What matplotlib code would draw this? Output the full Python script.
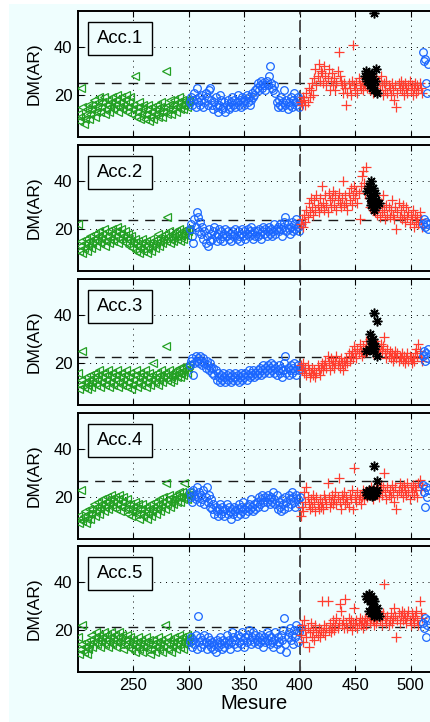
import numpy as np
import matplotlib
matplotlib.use('Agg')
import matplotlib.pyplot as plt
from matplotlib.patches import Rectangle

plt.rcParams['font.family'] = ['Liberation Sans', 'DejaVu Sans']

# ---------------- data ----------------
panel_labels = ['Acc.1', 'Acc.2', 'Acc.3', 'Acc.4', 'Acc.5']
thresholds = [25.0, 23.8, 22.3, 26.8, 21.4]
split_x = 400
x_ticks = [250, 300, 350, 400, 450, 500]
y_ticks = [20, 40]

x_green = list(range(200, 301))
x_blue = list(range(301, 401))
x_red = list(range(401, 511))
x_tail = [511, 512, 513, 514, 515, 516]

green_1 = [12, 9, 11, 23, 15, 8, 10, 12, 14, 16,
           10, 12, 14, 16, 18, 11, 13, 15, 17, 19,
           13, 15, 17, 19, 12, 14, 16, 18, 13, 15,
           17, 19, 14, 16, 18, 20, 13, 15, 17, 19,
           14, 16, 18, 20, 13, 15, 17, 19, 12, 14,
           16, 28, 11, 13, 15, 17, 10, 12, 14, 16,
           10, 12, 14, 16, 9, 11, 13, 15, 10, 12,
           14, 16, 11, 13, 15, 17, 11, 13, 15, 30,
           12, 14, 16, 18, 12, 14, 16, 18, 13, 15,
           17, 19, 14, 16, 18, 14, 16, 18, 15, 17,
           18]
blue_1 = [17, 19, 16, 18, 21, 15, 23, 17, 19, 16,
          18, 20, 15, 17, 21, 19, 16, 22, 23, 18,
          16, 14, 17, 19, 15, 13, 16, 20, 18, 14,
          15, 17, 13, 16, 18, 14, 15, 17, 19, 16,
          18, 15, 17, 20, 16, 18, 15, 19, 17, 16,
          18, 20, 17, 19, 16, 18, 21, 19, 20, 22,
          23, 25, 22, 24, 26, 23, 25, 24, 22, 26,
          24, 28, 32, 25, 23, 22, 24, 21, 17, 15,
          18, 16, 19, 15, 17, 22, 16, 18, 14, 17,
          16, 19, 15, 18, 21, 17, 16, 19, 15, 18]
red_1 = [17, 16, 19, 18, 16, 21, 17, 23, 19, 22,
         25, 20, 27, 31, 24, 28, 33, 26, 30, 29,
         25, 32, 28, 24, 27, 31, 22, 26, 29, 24,
         27, 22, 25, 30, 38, 28, 26, 24, 21, 25,
         23, 16, 21, 25, 23, 20, 26, 41, 24, 22,
         25, 21, 27, 24, 23, 26, 22, 25, 24, 27,
         23, 25, 22, 26, 24, 21, 25, 23, 27, 24,
         26, 22, 28, 24, 20, 25, 22, 26, 21, 24,
         23, 20, 25, 22, 18, 24, 15, 21, 25, 23,
         26, 22, 24, 20, 25, 23, 21, 24, 26, 22,
         24, 20, 23, 25, 21, 24, 22, 25, 23, 21]
star_x_1 = [459, 460, 461, 462, 463, 463, 464, 465, 465, 466, 467, 468, 469, 470, 467]
star_y_1 = [28, 30, 26, 29, 24, 27, 25, 23, 28, 24, 22, 26, 31, 21, 54]
tail_1 = [38, 34, 35, 25, 21, 33]

green_2 = [22, 11, 13, 15, 10, 12, 14, 16, 11, 13,
           15, 17, 12, 14, 16, 18, 13, 15, 17, 19,
           14, 16, 18, 20, 13, 15, 17, 19, 14, 16,
           18, 20, 15, 17, 19, 21, 14, 16, 18, 20,
           15, 17, 19, 14, 16, 18, 13, 15, 17, 12,
           14, 16, 11, 13, 15, 10, 12, 14, 16, 11,
           13, 15, 10, 12, 14, 16, 11, 13, 15, 12,
           14, 16, 18, 13, 15, 17, 14, 16, 18, 15,
           25, 17, 19, 14, 16, 18, 15, 17, 19, 16,
           18, 20, 15, 17, 19, 16, 18, 20, 17, 19,
           20]
blue_2 = [20, 22, 17, 14, 24, 21, 27, 25, 19, 23,
          18, 21, 16, 19, 14, 17, 13, 20, 15, 18,
          16, 19, 21, 17, 15, 18, 20, 16, 19, 17,
          15, 18, 20, 17, 19, 16, 18, 15, 19, 17,
          18, 20, 16, 19, 17, 15, 18, 20, 17, 19,
          16, 18, 20, 17, 19, 21, 18, 16, 19, 17,
          19, 17, 20, 18, 16, 19, 21, 18, 20, 17,
          19, 21, 18, 20, 17, 19, 22, 18, 20, 21,
          19, 22, 20, 17, 21, 23, 25, 19, 22, 20,
          18, 21, 23, 19, 22, 20, 24, 21, 19, 22]
red_2 = [22, 24, 21, 26, 23, 28, 25, 31, 27, 33,
         29, 26, 32, 28, 34, 30, 27, 33, 29, 38,
         31, 28, 34, 30, 27, 35, 32, 29, 33, 36,
         30, 34, 28, 32, 35, 31, 29, 33, 40, 30,
         34, 31, 28, 35, 32, 37, 30, 34, 38, 33,
         36, 31, 35, 24, 38, 42, 44, 39, 35, 46,
         37, 33, 29, 34, 31, 28, 32, 27, 30, 26,
         29, 25, 31, 27, 34, 28, 24, 30, 26, 29,
         25, 28, 32, 26, 24, 29, 20, 27, 31, 25,
         28, 24, 30, 26, 23, 29, 25, 27, 22, 26,
         24, 28, 21, 26, 23, 25, 22, 27, 24, 21]
star_x_2 = [461, 462, 463, 464, 465, 466, 467, 468, 469, 470, 466, 471, 464, 467]
star_y_2 = [36, 38, 33, 40, 31, 34, 30, 35, 32, 30, 37, 31, 30, 28]
tail_2 = [22, 24, 21, 23, 22, 20]

green_3 = [16, 9, 11, 13, 25, 10, 12, 14, 9, 11,
           13, 15, 10, 12, 14, 16, 11, 13, 15, 17,
           10, 12, 14, 16, 11, 13, 15, 17, 10, 12,
           14, 16, 11, 13, 15, 17, 10, 12, 14, 16,
           11, 13, 15, 17, 10, 12, 14, 16, 9, 11,
           13, 15, 17, 10, 12, 14, 16, 11, 13, 15,
           17, 10, 12, 14, 16, 11, 13, 15, 20, 12,
           14, 16, 11, 13, 15, 17, 12, 14, 16, 27,
           13, 15, 17, 12, 14, 16, 13, 15, 17, 14,
           16, 18, 14, 16, 18, 15, 17, 19, 16, 18,
           19]
blue_3 = [19, 21, 22, 15, 20, 23, 21, 22, 20, 23,
          21, 19, 22, 20, 18, 21, 19, 17, 20, 18,
          16, 18, 15, 17, 13, 16, 14, 12, 15, 13,
          16, 14, 12, 15, 13, 16, 14, 12, 15, 13,
          14, 16, 13, 15, 12, 14, 16, 13, 15, 14,
          16, 13, 15, 17, 14, 16, 15, 17, 14, 16,
          15, 17, 16, 18, 15, 17, 19, 16, 18, 17,
          19, 16, 18, 20, 17, 19, 16, 18, 15, 17,
          19, 16, 18, 14, 17, 20, 23, 16, 18, 15,
          17, 19, 16, 18, 20, 17, 15, 19, 17, 18]
red_3 = [19, 17, 20, 16, 18, 15, 19, 17, 14, 16,
         18, 15, 17, 14, 16, 19, 17, 15, 18, 20,
         17, 19, 21, 18, 23, 20, 17, 22, 19, 21,
         18, 20, 23, 19, 21, 18, 22, 20, 17, 21,
         19, 22, 20, 24, 21, 23, 25, 22, 27, 24,
         22, 26, 24, 28, 25, 23, 27, 24, 26, 29,
         25, 27, 30, 26, 28, 24, 27, 29, 25, 28,
         26, 24, 28, 25, 27, 31, 24, 22, 26, 23,
         25, 22, 24, 21, 23, 25, 22, 24, 21, 23,
         22, 24, 21, 23, 20, 22, 24, 21, 23, 22,
         20, 22, 21, 24, 26, 23, 28, 25, 22, 21]
star_x_3 = [467, 470, 463, 465, 466, 468, 460, 462, 470, 467, 464, 466]
star_y_3 = [41, 37.5, 32, 28.5, 30, 27, 25, 26, 23, 26, 29, 25]
tail_3 = [23, 25, 21, 24, 22, 26]

green_4 = [12, 9, 11, 23, 10, 12, 14, 9, 11, 13,
           15, 11, 13, 15, 17, 12, 14, 16, 18, 13,
           15, 17, 19, 14, 16, 18, 20, 15, 17, 19,
           21, 16, 18, 20, 15, 17, 19, 21, 14, 16,
           18, 20, 15, 17, 19, 13, 15, 17, 12, 14,
           16, 18, 13, 15, 17, 11, 13, 15, 17, 12,
           14, 16, 11, 13, 15, 17, 12, 14, 16, 18,
           13, 15, 17, 19, 14, 16, 18, 20, 15, 26,
           17, 19, 21, 16, 18, 20, 17, 19, 21, 18,
           20, 22, 18, 20, 22, 19, 26, 21, 19, 21,
           22]
blue_4 = [22, 20, 18, 23, 21, 19, 24, 20, 22, 18,
          21, 19, 23, 17, 20, 24, 18, 21, 16, 19,
          15, 17, 13, 16, 14, 12, 15, 17, 13, 16,
          14, 12, 15, 17, 13, 16, 14, 11, 15, 13,
          16, 14, 12, 15, 17, 13, 16, 14, 18, 15,
          13, 16, 14, 17, 15, 19, 16, 14, 17, 15,
          18, 16, 20, 17, 19, 21, 18, 16, 20, 18,
          21, 19, 17, 20, 18, 22, 19, 17, 21, 15,
          18, 16, 14, 19, 17, 15, 20, 18, 16, 21,
          19, 17, 22, 20, 18, 16, 21, 19, 17, 20]
red_4 = [12, 16, 14, 22, 18, 24, 20, 17, 15, 19,
         16, 21, 18, 14, 20, 17, 15, 19, 16, 18,
         15, 21, 19, 17, 26, 20, 16, 18, 21, 17,
         19, 22, 17, 20, 28, 18, 15, 21, 19, 22,
         17, 20, 18, 16, 21, 19, 23, 15, 32, 20,
         18, 22, 19, 21, 17, 20, 23, 19, 22, 21,
         20, 23, 21, 24, 22, 19, 23, 21, 24, 22,
         20, 23, 25, 21, 24, 30, 22, 19, 24, 21,
         23, 20, 25, 22, 18, 24, 15, 21, 23, 26,
         22, 24, 20, 25, 23, 21, 26, 22, 19, 24,
         22, 25, 21, 24, 23, 20, 26, 27, 23, 25]
star_x_4 = [467, 470, 460, 461, 462, 463, 464, 465, 466, 467, 468, 469, 470, 463, 466]
star_y_4 = [33, 26.5, 22, 21, 23, 21, 22, 20.5, 23, 21, 22, 21.5, 23, 22.5, 21]
tail_4 = [25, 22, 16, 24, 20, 23]

green_5 = [17, 10, 12, 14, 22, 11, 13, 15, 10, 12,
           14, 16, 18, 13, 15, 17, 19, 14, 16, 18,
           13, 15, 17, 19, 14, 16, 18, 13, 15, 17,
           19, 14, 16, 18, 13, 15, 17, 19, 14, 16,
           18, 12, 14, 16, 18, 13, 15, 17, 12, 14,
           16, 11, 13, 15, 17, 12, 14, 16, 11, 13,
           15, 17, 12, 14, 16, 10, 12, 14, 16, 11,
           13, 15, 17, 12, 14, 16, 11, 13, 22, 15,
           17, 12, 14, 16, 11, 13, 15, 17, 12, 14,
           16, 18, 13, 15, 17, 12, 14, 16, 18, 15,
           17]
blue_5 = [15, 17, 13, 16, 14, 18, 12, 26, 15, 17,
          13, 16, 14, 18, 15, 12, 17, 14, 16, 13,
          15, 12, 14, 11, 16, 13, 15, 17, 14, 12,
          16, 13, 15, 18, 14, 16, 12, 15, 19, 17,
          14, 16, 13, 18, 15, 17, 14, 19, 16, 13,
          17, 15, 18, 20, 16, 14, 17, 19, 15, 18,
          16, 14, 17, 15, 18, 16, 13, 17, 15, 19,
          16, 18, 14, 17, 15, 13, 16, 19, 14, 17,
          15, 12, 18, 16, 20, 25, 14, 11, 17, 19,
          21, 16, 18, 14, 20, 17, 22, 15, 19, 21]
red_5 = [18, 22, 15, 24, 20, 17, 21, 13, 19, 23,
         17, 20, 16, 22, 19, 18, 21, 17, 20, 32,
         19, 22, 18, 21, 32, 20, 23, 19, 21, 24,
         20, 22, 25, 21, 23, 31, 28, 22, 24, 21,
         33, 23, 21, 25, 22, 24, 20, 23, 29, 22,
         24, 21, 23, 25, 22, 24, 21, 23, 25, 22,
         24, 26, 23, 25, 27, 24, 22, 26, 23, 25,
         28, 24, 26, 22, 27, 39, 25, 23, 26, 22,
         24, 27, 23, 25, 29, 26, 17, 24, 27, 23,
         26, 28, 24, 27, 25, 23, 26, 28, 24, 22,
         27, 25, 23, 26, 28, 24, 22, 32, 27, 25]
star_x_5 = [460, 461, 462, 463, 464, 465, 466, 467, 462, 464, 466, 467, 468, 469, 470, 471, 465]
star_y_5 = [34, 33, 35, 32, 34, 31, 33, 32, 28, 27, 29, 26, 28, 27, 29, 26, 28]
tail_5 = [23, 21, 25, 17, 22, 24]

greens = [green_1, green_2, green_3, green_4, green_5]
blues = [blue_1, blue_2, blue_3, blue_4, blue_5]
reds = [red_1, red_2, red_3, red_4, red_5]
stars_x = [star_x_1, star_x_2, star_x_3, star_x_4, star_x_5]
stars_y = [star_y_1, star_y_2, star_y_3, star_y_4, star_y_5]
tails = [tail_1, tail_2, tail_3, tail_4, tail_5]

# ---------------- style ----------------
W, H = 430, 722
BG = '#effefe'
C_GREEN = '#23a023'
C_BLUE = '#1a66ff'
C_RED = '#ff3e30'

fig = plt.figure(figsize=(W / 100, H / 100), dpi=100, facecolor='white')
fig.patches.append(Rectangle((9 / W, 0), 1, 1 - 4 / H, transform=fig.transFigure,
                             facecolor=BG, edgecolor='none', zorder=-5))

ax_left, ax_right = 78, 430
panel_tops = [11, 145, 279, 413, 546]
panel_h = 126

for i in range(5):
    top = panel_tops[i]
    ax = fig.add_axes([ax_left / W, 1 - (top + panel_h) / H,
                       (ax_right - ax_left) / W, panel_h / H])
    ax.set_facecolor(BG)
    ax.set_xlim(200, 200 + (ax_right - ax_left) / 1.109)
    ax.set_ylim(2.5, 55)

    ax.plot(x_green, greens[i], linestyle='none', marker='<', ms=5.5,
            mfc='none', mec=C_GREEN, mew=0.9, zorder=3)
    ax.plot(x_blue, blues[i], linestyle='none', marker='o', ms=5.5,
            mfc='none', mec=C_BLUE, mew=0.9, zorder=3)
    ax.plot(x_red, reds[i], linestyle='none', marker='+', ms=6.5,
            mec=C_RED, mew=0.9, zorder=3)
    ax.plot(stars_x[i], stars_y[i], linestyle='none', marker=(8, 2, 0), ms=7,
            mec='black', mew=1.1, zorder=4)
    ax.plot(x_tail, tails[i], linestyle='none', marker='o', ms=5.5,
            mfc='none', mec=C_BLUE, mew=0.9, zorder=3)

    # threshold
    ax.axhline(thresholds[i], color='0.1', lw=1.0, linestyle=(0, (7, 5)), zorder=2)
    # split line
    ax.axvline(split_x, color='0.3', lw=1.4, linestyle=(0, (6, 3)), zorder=2)

    # grid
    ax.set_xticks(x_ticks)
    ax.set_yticks(y_ticks)
    ax.grid(True, color='black', lw=0.7, linestyle=(0, (1, 5)), zorder=1)
    ax.set_axisbelow(True)

    for s in ['left', 'top', 'bottom']:
        ax.spines[s].set_linewidth(1.4)
        ax.spines[s].set_color('black')
    ax.spines['right'].set_visible(False)

    ax.tick_params(direction='in', length=4, width=0.8, top=True, right=False,
                   labelsize=12, pad=4, colors='black')
    if i < 4:
        ax.tick_params(labelbottom=False)
    else:
        ax.set_xlabel('Mesure', fontsize=14.5, labelpad=1)

    ax.set_ylabel('DM(AR)', fontsize=12.5, labelpad=9)

    # label box
    ax.add_patch(Rectangle((10 / 352, 1 - 44 / 126), 64 / 352, 33 / 126,
                           transform=ax.transAxes, facecolor=BG, edgecolor='black',
                           lw=1.0, zorder=6))
    ax.text(42 / 352, 1 - 27.5 / 126, panel_labels[i], transform=ax.transAxes,
            ha='center', va='center', fontsize=13.3, zorder=7)

fig.savefig('out.png', dpi=100, facecolor=fig.get_facecolor())
